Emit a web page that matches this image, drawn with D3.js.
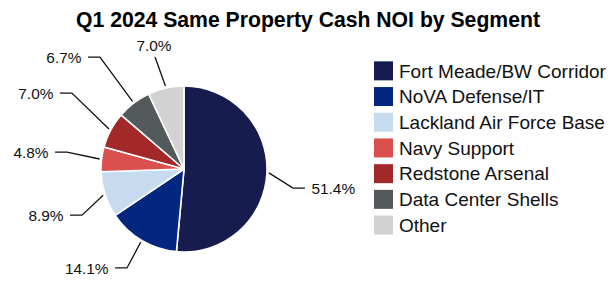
<!DOCTYPE html>
<html>
<head>
<meta charset="utf-8">
<script src="https://cdn.jsdelivr.net/npm/d3@7"></script>
<style>
  html, body { margin: 0; padding: 0; background: #fff; }
  svg { display: block; font-family: "Liberation Sans", Arial, Helvetica, sans-serif; }
</style>
</head>
<body>
<svg id="chart" width="615" height="285"></svg>
<script>
// ---- data ----
const categories = [
  "Fort Meade/BW Corridor",
  "NoVA Defense/IT",
  "Lackland Air Force Base",
  "Navy Support",
  "Redstone Arsenal",
  "Data Center Shells",
  "Other"
];
const values = [51.4, 14.1, 8.9, 4.8, 7.0, 6.7, 7.0];
const valueLabels = ["51.4%", "14.1%", "8.9%", "4.8%", "7.0%", "6.7%", "7.0%"];
const title = "Q1 2024 Same Property Cash NOI by Segment";

// ---- styles / layout ----
const colors = ["#161c4e", "#03267f", "#c6daf0", "#d9504f", "#a3282a", "#54595b", "#d2d2d2"];
const leaderRadius = [110.6, 114.2, 111.9, 118.2, 135.4, 140, 115.7];
const leaderAngleShift = [7.3, -0.7, -6.4, 1.5, 6.1, 0.4, -1.9];

const W = 615, H = 285;
const cx = 184, cy = 169, R = 83;

const svg = d3.select("#chart");

svg.append("text")
  .attr("x", 308).attr("y", 27)
  .attr("text-anchor", "middle")
  .attr("font-size", 21.2).attr("font-weight", "bold")
  .attr("fill", "#000")
  .text(title);

const data = categories.map((c, i) => ({ cat: c, value: values[i], label: valueLabels[i], i }));
const pie = d3.pie().sort(null).value(d => d.value).startAngle(0).endAngle(2 * Math.PI);
const arcs = pie(data);
const arc = d3.arc().innerRadius(0).outerRadius(R);
const color = d3.scaleOrdinal().domain(categories).range(colors);

const g = svg.append("g").attr("transform", `translate(${cx},${cy})`);
g.selectAll("path.slice").data(arcs).enter().append("path")
  .attr("class", "slice")
  .attr("d", arc)
  .attr("fill", d => color(d.data.cat))
  .attr("stroke", "#fff").attr("stroke-width", 1.6).attr("stroke-linejoin", "round");

const polar = (r, a) => [r * Math.sin(a), -r * Math.cos(a)];
const toRad = d => d * Math.PI / 180;

arcs.forEach((d, i) => {
  const mid = (d.startAngle + d.endAngle) / 2;
  const p0 = polar(R + 2, mid);
  const ea = mid + toRad(leaderAngleShift[i]);
  const p1 = polar(leaderRadius[i], ea);
  const s = Math.sin(ea);
  let pts, tx, ty, anchor;
  if (Math.abs(s) < 0.35) {
    pts = [p0, p1];
    tx = p1[0] - 1; ty = p1[1] - 6; anchor = "middle";
  } else {
    const dir = s > 0 ? 1 : -1;
    const p2 = [p1[0] + dir * 12, p1[1]];
    pts = [p0, p1, p2];
    tx = p2[0] + dir * 6.5; ty = p2[1] + 5.8; anchor = dir > 0 ? "start" : "end";
  }
  g.append("path")
    .attr("d", d3.line()(pts))
    .attr("fill", "none").attr("stroke", "#111").attr("stroke-width", 1.3);
  g.append("text")
    .attr("x", tx).attr("y", ty)
    .attr("text-anchor", anchor)
    .attr("font-size", 15.4).attr("fill", "#111")
    .text(d.data.label);
});

// ---- legend ----
const legY = d3.scaleBand().domain(categories).range([58, 58 + 25.7 * categories.length]).paddingInner(0);
const leg = svg.append("g");
const rows = leg.selectAll("g").data(categories).enter().append("g")
  .attr("transform", d => `translate(374,${legY(d) + legY.bandwidth() / 2})`);
rows.append("rect")
  .attr("x", 0).attr("y", -9.5).attr("width", 19).attr("height", 19)
  .attr("fill", d => color(d));
rows.append("text")
  .attr("x", 25).attr("y", 6.8)
  .attr("font-size", 19).attr("fill", "#111")
  .text(d => d);
</script>
</body>
</html>
